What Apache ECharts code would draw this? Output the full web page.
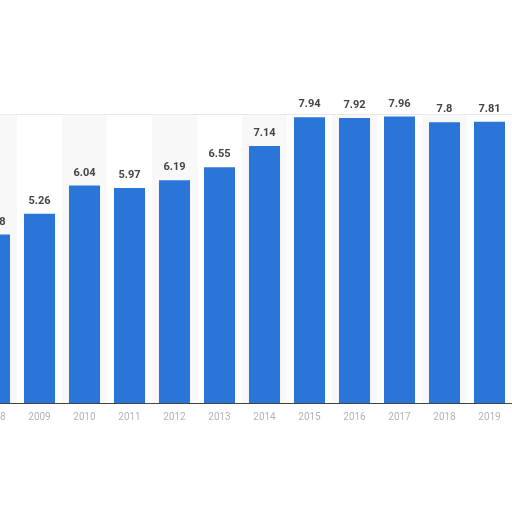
<!DOCTYPE html>
<html>
<head>
<meta charset="utf-8">
<script src="https://cdn.jsdelivr.net/npm/echarts@6/dist/echarts.min.js"></script>
<style>html,body{margin:0;padding:0;background:#fff;overflow:hidden;width:512px;height:512px}#c{position:absolute;left:-28px;top:0;width:540px;height:512px}</style>
</head>
<body>
<div id="c"></div>
<script>
const years = ['2008','2009','2010','2011','2012','2013','2014','2015','2016','2017','2018','2019'];
const values = [4.68, 5.26, 6.04, 5.97, 6.19, 6.55, 7.14, 7.94, 7.92, 7.96, 7.8, 7.81];
const yTicks = {min: 0, max: 8, interval: 2};

const chart = echarts.init(document.getElementById('c'), null, {renderer: 'canvas'});
chart.setOption({
  animation: false,
  backgroundColor: '#ffffff',
  grid: {left: 0, right: 0, top: 115, bottom: 109, show: true, borderColor: '#d0d0d0', borderWidth: 1, backgroundColor: 'transparent'},
  xAxis: {
    type: 'category',
    data: years,
    axisLine: {lineStyle: {color: '#444', width: 1}},
    axisTick: {show: false},
    axisLabel: {color: '#b4b4b4', fontSize: 10, fontFamily: 'Roboto', margin: 9},
    splitArea: {show: true, areaStyle: {color: ['#f8f8f8', '#ffffff']}}
  },
  yAxis: {
    type: 'value',
    min: yTicks.min, max: yTicks.max, interval: yTicks.interval,
    axisLabel: {show: false},
    axisLine: {show: false},
    axisTick: {show: false},
    splitLine: {lineStyle: {color: '#cfcfcf', type: 'dotted', width: 1}}
  },
  series: [{
    type: 'bar',
    data: values,
    barWidth: '69%',
    itemStyle: {color: '#2a75d8'},
    label: {show: true, position: 'top', distance: 7, color: '#444', fontSize: 11, fontWeight: 'bold', fontFamily: 'Roboto'}
  }]
});
</script>
</body>
</html>
